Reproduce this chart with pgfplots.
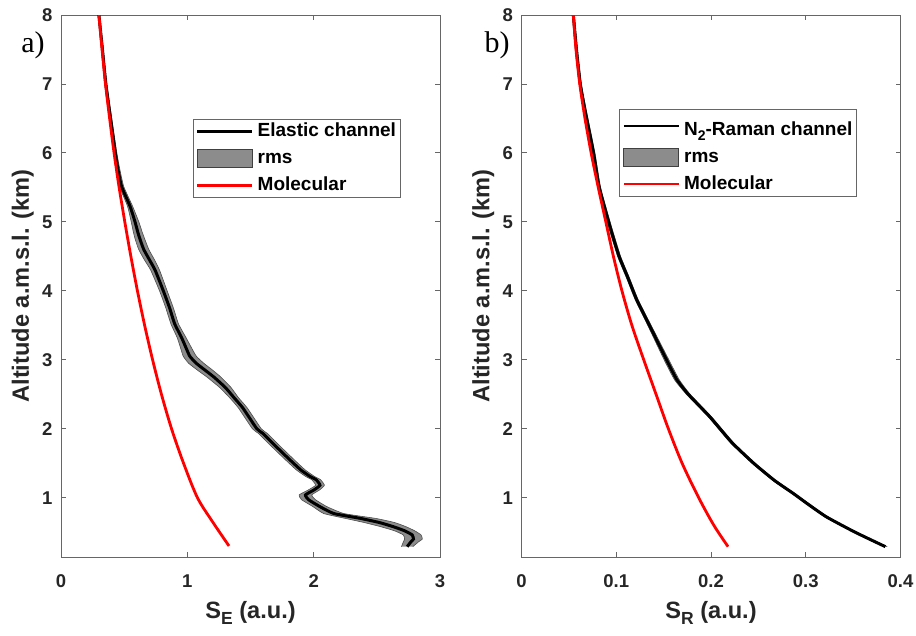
\documentclass[border=0pt]{standalone}
\usepackage{fontspec}
\setmainfont{Liberation Sans}
\newfontfamily\timesfont{Liberation Serif}
\usepackage{pgfplots}
\pgfplotsset{compat=1.18}
\usepackage{pgfplotstable}
\usepgfplotslibrary{fillbetween}

\newcommand{\tickfont}{\fontsize{18.5}{22}\selectfont\bfseries}
\newcommand{\legfont}{\fontsize{19}{22}\selectfont\bfseries}
\newcommand{\labfont}{\fontsize{23.6}{27}\selectfont\bfseries}

% ---------- left panel data (y = altitude km, x = signal) ----------
\pgfplotstableread{
y x
8.00 0.300
7.50 0.328
7.00 0.355
6.50 0.392
6.00 0.430
5.75 0.452
5.51 0.480
5.23 0.546
5.00 0.586
4.85 0.608
4.75 0.625
4.60 0.655
4.45 0.700
4.30 0.745
4.00 0.810
3.75 0.860
3.52 0.900
3.32 0.955
3.15 0.995
3.05 1.020
2.95 1.070
2.85 1.140
2.75 1.210
2.60 1.300
2.45 1.370
2.30 1.440
2.00 1.550
1.93 1.600
1.80 1.670
1.64 1.760
1.50 1.840
1.40 1.900
1.31 1.970
1.26 2.020
1.18 2.050
1.11 2.000
1.04 1.935
0.97 1.960
0.87 2.050
0.77 2.160
0.70 2.370
0.64 2.520
0.58 2.630
0.52 2.720
0.46 2.780
0.40 2.790
0.36 2.770
0.29 2.740
}\elastic

\pgfplotstableread{
y lo hi
8.00 0.296 0.304
7.50 0.321 0.335
7.00 0.347 0.363
6.50 0.382 0.402
6.00 0.418 0.442
5.75 0.437 0.467
5.51 0.463 0.497
5.23 0.526 0.566
5.00 0.556 0.616
4.85 0.573 0.643
4.75 0.587 0.663
4.60 0.615 0.695
4.45 0.660 0.740
4.30 0.710 0.780
4.00 0.780 0.840
3.75 0.830 0.890
3.52 0.870 0.930
3.32 0.920 0.990
3.15 0.950 1.040
3.05 0.968 1.072
2.95 1.010 1.130
2.85 1.080 1.200
2.75 1.155 1.265
2.60 1.255 1.345
2.45 1.335 1.405
2.30 1.405 1.475
2.00 1.515 1.585
1.93 1.565 1.635
1.80 1.635 1.705
1.64 1.725 1.795
1.50 1.805 1.875
1.40 1.865 1.935
1.31 1.935 2.005
1.26 1.985 2.055
1.18 2.015 2.085
1.11 1.955 2.045
1.04 1.885 1.985
0.97 1.905 2.015
0.87 1.995 2.105
0.77 2.080 2.240
0.70 2.250 2.490
0.64 2.400 2.640
0.58 2.530 2.730
0.52 2.640 2.800
0.46 2.710 2.850
0.40 2.720 2.860
0.36 2.710 2.830
0.29 2.695 2.785
}\elasticrms

\pgfplotstableread{
y x
8.00 0.300
7.50 0.325
7.00 0.352
6.50 0.385
6.00 0.420
5.50 0.460
5.00 0.505
4.50 0.553
4.00 0.605
3.50 0.662
3.00 0.725
2.50 0.795
2.00 0.875
1.50 0.970
1.00 1.080
0.65 1.200
0.30 1.330
}\molleft

% ---------- right panel data ----------
\pgfplotstableread{
y x
8.00 0.0547
7.50 0.0580
7.00 0.0620
6.62 0.0670
6.00 0.0760
5.50 0.0820
4.93 0.0934
4.50 0.1030
4.20 0.1120
3.87 0.1216
3.50 0.1350
3.00 0.1530
2.71 0.1640
2.50 0.1760
2.17 0.1990
1.80 0.2220
1.50 0.2450
1.25 0.2670
1.06 0.2870
0.90 0.3030
0.72 0.3220
0.50 0.3520
0.29 0.3840
}\raman

\pgfplotstableread{
y lo hi
8.00 0.0537 0.0557
7.50 0.0570 0.0590
7.00 0.0608 0.0632
6.62 0.0656 0.0684
6.00 0.0745 0.0775
5.50 0.0805 0.0835
4.93 0.0918 0.0950
4.50 0.1014 0.1046
4.20 0.1104 0.1136
3.87 0.1200 0.1232
3.50 0.1332 0.1368
3.00 0.1505 0.1555
2.71 0.1615 0.1665
2.50 0.1740 0.1780
2.17 0.1972 0.2008
1.80 0.2202 0.2238
1.50 0.2432 0.2468
1.25 0.2652 0.2688
1.06 0.2852 0.2888
0.90 0.3012 0.3048
0.72 0.3202 0.3238
0.50 0.3500 0.3540
0.29 0.3820 0.3860
}\ramanrms

\pgfplotstableread{
y x
8.00 0.0547
7.50 0.0575
7.00 0.0615
6.50 0.0670
6.00 0.0735
5.50 0.0810
5.00 0.0890
4.50 0.0970
4.00 0.1060
3.50 0.1165
3.00 0.1290
2.50 0.1420
2.00 0.1550
1.50 0.1695
1.00 0.1870
0.60 0.2030
0.29 0.2180
}\molright

\pgfplotsset{
  panel/.style={
    scale only axis, width=379pt, height=542pt,
    ymin=0.14, ymax=8, ytick={1,2,3,4,5,6,7,8},
    axis line style={black!60, line width=0.9pt},
    every tick/.style={black!60, line width=0.9pt},
    major tick length=5pt,
    tick align=inside,
    xtick pos=both, ytick pos=both,
    xticklabel pos=lower, yticklabel pos=left,
    ticklabel style={font=\tickfont, text=black!85},
    xticklabel style={yshift=-14pt},
    yticklabel style={xshift=-5pt},
    /pgf/number format/assume math mode=true,
    every axis x label/.style={at={(axis description cs:0.5,-0.103)}, anchor=center, font=\labfont, text=black!85},
    every axis y label/.style={at={(axis description cs:-0.101,0.5)}, rotate=90, anchor=center, font=\labfont, text=black!85},
    ylabel={Altitude a.m.s.l. (km)},
    legend style={anchor=north west, draw=black!60, line width=0.8pt, fill=white,
      font=\legfont, inner xsep=3pt, inner ysep=2pt, row sep=7pt, column sep=3pt,
      nodes={inner sep=1pt, text height=14pt, text depth=4pt},
      cells={anchor=west}},
    legend cell align=left,
    legend image code/.code={\draw[#1] (0pt,0pt) -- (55pt,0pt);},
  },
  rmsleg/.style={legend image code/.code={\draw[fill=black!45, draw=black!75, line width=0.8pt] (0pt,-9pt) rectangle (55pt,9pt);}},
}

\begin{document}
\begin{tikzpicture}[x=1pt,y=1pt]

% ---------------- panel a ----------------
\begin{axis}[panel, at={(61pt,78pt)}, anchor=south west,
  xmin=0, xmax=3, xtick={0,1,2,3},
  xlabel={S\raisebox{-0.45ex}{\fontsize{17.5}{17.5}\selectfont E} (a.u.)},
  legend style={at={(axis description cs:0.3475,0.808)}}]
\addlegendimage{black, line width=2.6pt}
\addlegendentry{Elastic channel}
\addlegendimage{rmsleg}
\addlegendentry{rms}
\addlegendimage{red, line width=2.2pt}
\addlegendentry{Molecular}
\addplot[name path=lo, draw=black!70, line width=0.6pt, smooth, tension=0.3, forget plot] table[x=lo, y=y] {\elasticrms};
\addplot[name path=hi, draw=black!70, line width=0.6pt, smooth, tension=0.3, forget plot] table[x=hi, y=y] {\elasticrms};
\addplot[fill=black!45, draw=none, forget plot] fill between[of=lo and hi];
\addplot[black, line width=3pt, smooth, tension=0.3, forget plot] table[x=x, y=y] {\elastic};
\addplot[red, line width=2.8pt, smooth, tension=0.5, forget plot] table[x=x, y=y] {\molleft};
\end{axis}

% ---------------- panel b ----------------
\begin{axis}[panel, at={(521.5pt,78pt)}, anchor=south west,
  xmin=0, xmax=0.4, xtick={0,0.1,0.2,0.3,0.4}, xticklabels={0,0.1,0.2,0.3,0.4},
  xlabel={S\raisebox{-0.45ex}{\fontsize{17.5}{17.5}\selectfont R} (a.u.)},
  legend style={at={(axis description cs:0.2576,0.8266)}}]
\addlegendimage{black, line width=2.6pt}
\addlegendentry[text height=23pt]{N\raisebox{-0.5ex}{\fontsize{14}{14}\selectfont 2}-Raman channel}
\addlegendimage{rmsleg}
\addlegendentry{rms}
\addlegendimage{red, line width=2.2pt}
\addlegendentry{Molecular}
\addplot[name path=lo, draw=black!70, line width=0.6pt, smooth, tension=0.3, forget plot] table[x=lo, y=y] {\ramanrms};
\addplot[name path=hi, draw=black!70, line width=0.6pt, smooth, tension=0.3, forget plot] table[x=hi, y=y] {\ramanrms};
\addplot[fill=black!45, draw=none, forget plot] fill between[of=lo and hi];
\addplot[black, line width=3pt, smooth, tension=0.3, forget plot] table[x=x, y=y] {\raman};
\addplot[red, line width=2.8pt, smooth, tension=0.5, forget plot] table[x=x, y=y] {\molright};
\end{axis}

\node[font=\timesfont\fontsize{30}{34}\selectfont] at (33,590) {a)};
\node[font=\timesfont\fontsize{30}{34}\selectfont] at (497,590) {b)};
\pgfresetboundingbox
\path[use as bounding box] (0,0) rectangle (916,635);
\end{tikzpicture}
\end{document}
